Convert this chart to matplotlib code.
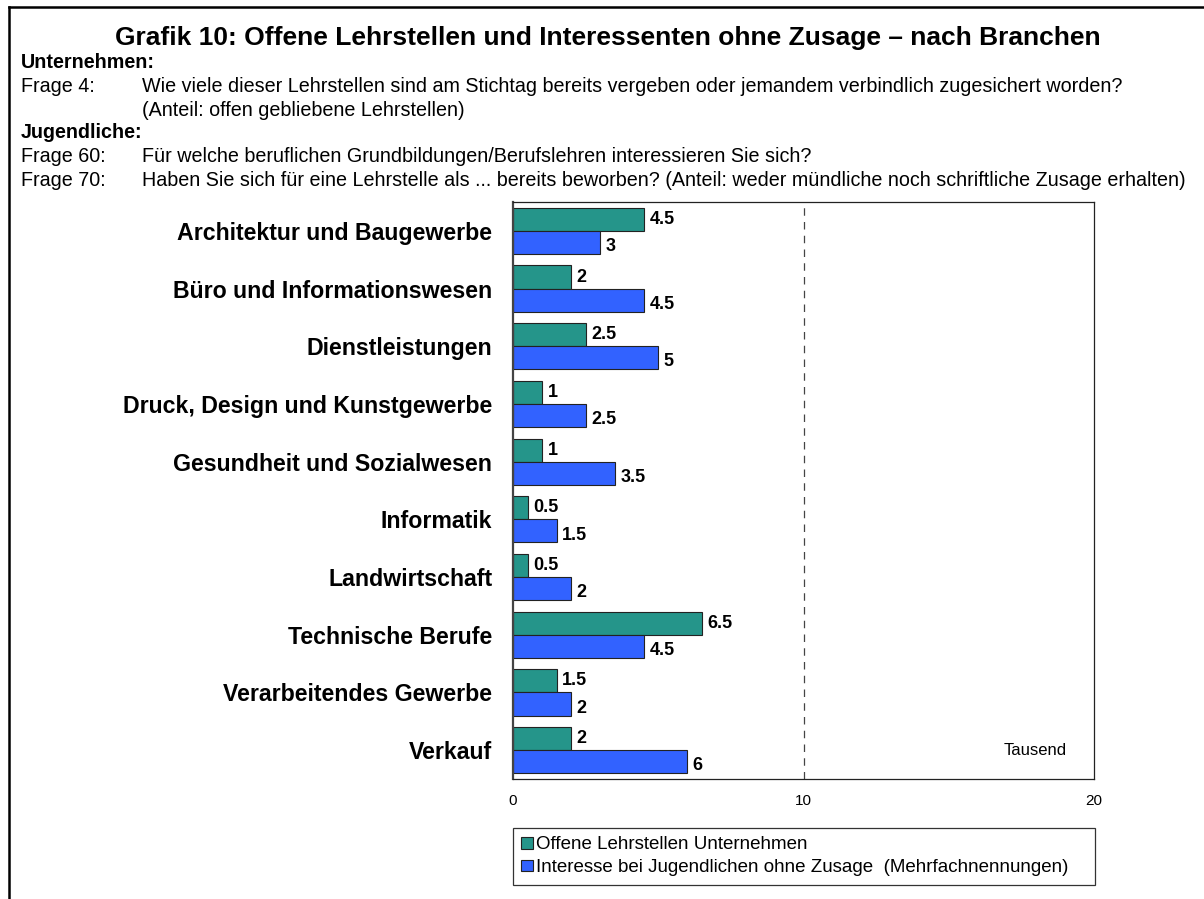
import matplotlib
matplotlib.use("Agg")
import matplotlib.pyplot as plt
from matplotlib.lines import Line2D
from matplotlib.patches import Patch
import numpy as np

plt.rcParams['font.family'] = ['Liberation Sans', 'DejaVu Sans']

categories = ["Architektur und Baugewerbe", "Büro und Informationswesen", "Dienstleistungen",
              "Druck, Design und Kunstgewerbe", "Gesundheit und Sozialwesen", "Informatik",
              "Landwirtschaft", "Technische Berufe", "Verarbeitendes Gewerbe", "Verkauf"]
offene = [4.5, 2, 2.5, 1, 1, 0.5, 0.5, 6.5, 1.5, 2]
interesse = [3, 4.5, 5, 2.5, 3.5, 1.5, 2, 4.5, 2, 6]
labels_offene = ["4.5", "2", "2.5", "1", "1", "0.5", "0.5", "6.5", "1.5", "2"]
labels_interesse = ["3", "4.5", "5", "2.5", "3.5", "1.5", "2", "4.5", "2", "6"]
xticks = [0, 10, 20]
series_names = ["Offene Lehrstellen Unternehmen",
                "Interesse bei Jugendlichen ohne Zusage  (Mehrfachnennungen)"]

teal = "#25958A"
blue = "#3262FF"

W, H = 1204, 899
fig = plt.figure(figsize=(W / 100, H / 100), dpi=100)

# frame lines of the page
fig.add_artist(Line2D([9 / W, 1.0], [1 - 7 / H, 1 - 7 / H], color="black", lw=1.8,
                      transform=fig.transFigure))
fig.add_artist(Line2D([9 / W, 9 / W], [0, 1 - 7 / H], color="black", lw=1.8,
                      transform=fig.transFigure))

def ftext(x, y, s, **kw):
    fig.text(x / W, 1 - y / H, s, va="center", **kw)

hs = 14.2
ftext(608, 38, "Grafik 10: Offene Lehrstellen und Interessenten ohne Zusage – nach Branchen",
      ha="center", fontsize=19, fontweight="bold")
ftext(21, 63, "Unternehmen:", fontsize=hs, fontweight="bold")
ftext(21, 87, "Frage 4:", fontsize=hs)
ftext(142, 87, "Wie viele dieser Lehrstellen sind am Stichtag bereits vergeben oder jemandem verbindlich zugesichert worden?", fontsize=hs)
ftext(142, 110, "(Anteil: offen gebliebene Lehrstellen)", fontsize=hs)
ftext(21, 133, "Jugendliche:", fontsize=hs, fontweight="bold")
ftext(21, 157, "Frage 60:", fontsize=hs)
ftext(142, 157, "Für welche beruflichen Grundbildungen/Berufslehren interessieren Sie sich?", fontsize=hs)
ftext(21, 180, "Frage 70:", fontsize=hs)
ftext(142, 180, "Haben Sie sich für eine Lehrstelle als ... bereits beworben? (Anteil: weder mündliche noch schriftliche Zusage erhalten)", fontsize=hs)

ax_l, ax_r, ax_t, ax_b = 513, 1094, 202, 779
ax = fig.add_axes([ax_l / W, 1 - ax_b / H, (ax_r - ax_l) / W, (ax_b - ax_t) / H])

y = np.arange(len(categories))
h = 0.4
ax.barh(y - h / 2, offene, height=h, color=teal, edgecolor="#222222", linewidth=0.8)
ax.barh(y + h / 2, interesse, height=h, color=blue, edgecolor="#222222", linewidth=0.8)

for i in range(len(categories)):
    ax.annotate(labels_offene[i], (offene[i], y[i] - h / 2), xytext=(4, 0), textcoords="offset points",
                va="center", ha="left", fontsize=13, fontweight="bold")
    ax.annotate(labels_interesse[i], (interesse[i], y[i] + h / 2), xytext=(4, -3), textcoords="offset points",
                va="center", ha="left", fontsize=13, fontweight="bold")

ax.axvline(10, color="#444444", lw=0.9, ls=(0, (6, 5)))
ax.set_xlim(0, 20)
ax.set_ylim(9.5, -0.5)
ax.set_xticks(xticks)
ax.set_xticklabels([str(v) for v in xticks], fontsize=11)
ax.set_yticks(y)
ax.set_yticklabels(categories, fontsize=16.7, fontweight="bold")
ax.tick_params(axis="x", length=0, pad=11)
ax.tick_params(axis="y", length=0, pad=15)
for s in ax.spines.values():
    s.set_linewidth(0.9)
    s.set_color("#222222")
ax.spines["left"].set_linewidth(1.6)
ax.spines["left"].set_color("#444444")

ax.text(19.05, 9.0, "Tausend", ha="right", va="center", fontsize=12)

handles = [Patch(facecolor=teal, edgecolor="#222222", linewidth=0.8),
           Patch(facecolor=blue, edgecolor="#222222", linewidth=0.8)]
lx0, lx1, ly0, ly1 = 513, 1095, 828, 884
leg = fig.legend(handles, series_names, loc="upper left",
                 bbox_to_anchor=(lx0 / W, 1 - ly1 / H, (lx1 - lx0) / W, (ly1 - ly0) / H),
                 bbox_transform=fig.transFigure, mode="expand", fontsize=13.5,
                 frameon=True, fancybox=False, edgecolor="black", handlelength=0.6,
                 handleheight=0.6, handletextpad=0.2, borderpad=0.45, labelspacing=0.3,
                 borderaxespad=0)
leg.get_frame().set_linewidth(0.9)
leg._legend_box.align = "left"
leg._legend_box.sep = 0

fig.savefig("out.png", dpi=100)
